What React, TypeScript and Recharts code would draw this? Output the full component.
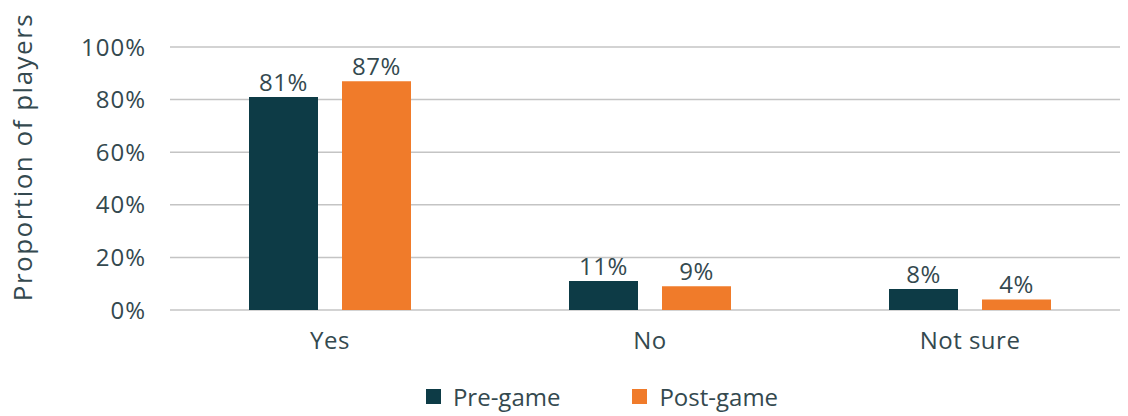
import React from "react";
import { BarChart, Bar, XAxis, YAxis, CartesianGrid, Legend, LabelList } from "recharts";

const categories = ["Yes", "No", "Not sure"];
const preGame = [81, 11, 8];
const postGame = [87, 9, 4];
const yTicks = [0, 20, 40, 60, 80, 100];
const seriesNames = ["Pre-game", "Post-game"];
const seriesColors = ["#0d3b46", "#f07b2a"];

const data = categories.map((c, i) => ({ name: c, pre: preGame[i], post: postGame[i] }));

const TEXT = "#34494f";
const FONT = "'Open Sans', sans-serif";

const LegendContent = () => (
  <div style={{ display: "flex", justifyContent: "center", alignItems: "center", paddingLeft: 84, fontFamily: FONT, fontSize: 24, color: TEXT }}>
    {seriesNames.map((n, i) => (
      <div key={n} style={{ display: "flex", alignItems: "center", marginRight: i === 0 ? 72 : 0 }}>
        <span style={{ display: "inline-block", width: 15, height: 15, background: seriesColors[i], marginRight: 12 }} />
        <span>{n}</span>
      </div>
    ))}
  </div>
);

export default function App() {
  return (
    <div style={{ position: "absolute", left: 0, top: 0, background: "#fff" }}>
      <BarChart
        width={1128}
        height={416}
        data={data}
        margin={{ top: 47, right: 8, bottom: 0, left: 0 }}
        barGap={24}
        barSize={69}
      >
        <CartesianGrid vertical={false} stroke="#c4c4c4" strokeWidth={1.5} />
        <XAxis
          dataKey="name"
          axisLine={false}
          tickLine={false}
          tickSize={0}
          tickMargin={22}
          height={70}
          padding={{ left: 0, right: -10 }}
          tick={{ fill: TEXT, fontSize: 24, fontFamily: FONT, letterSpacing: 0.5 }}
        />
        <YAxis
          width={170}
          domain={[0, 100]}
          ticks={yTicks}
          axisLine={false}
          tickLine={false}
          tickSize={0}
          tickMargin={24}
          tickFormatter={(v: number) => `${v}%`}
          tick={{ fill: TEXT, fontSize: 24, fontFamily: FONT, letterSpacing: 1 }}
          label={() => (
            <text
              x={22}
              y={157}
              transform="rotate(-90, 22, 157)"
              textAnchor="middle"
              dominantBaseline="central"
              fill={TEXT}
              fontSize={26}
              fontFamily={FONT}
              letterSpacing={1.5}
            >
              Proportion of players
            </text>
          )}
        />
        <Legend verticalAlign="bottom" height={36} content={<LegendContent />} />
        <Bar dataKey="pre" name={seriesNames[0]} fill={seriesColors[0]} isAnimationActive={false}>
          <LabelList dataKey="pre" position="top" offset={6} formatter={(v: number) => `${v}%`} style={{ fill: TEXT, fontSize: 24, fontFamily: FONT, letterSpacing: 0.5 }} />
        </Bar>
        <Bar dataKey="post" name={seriesNames[1]} fill={seriesColors[1]} isAnimationActive={false}>
          <LabelList dataKey="post" position="top" offset={6} formatter={(v: number) => `${v}%`} style={{ fill: TEXT, fontSize: 24, fontFamily: FONT, letterSpacing: 0.5 }} />
        </Bar>
      </BarChart>
    </div>
  );
}
